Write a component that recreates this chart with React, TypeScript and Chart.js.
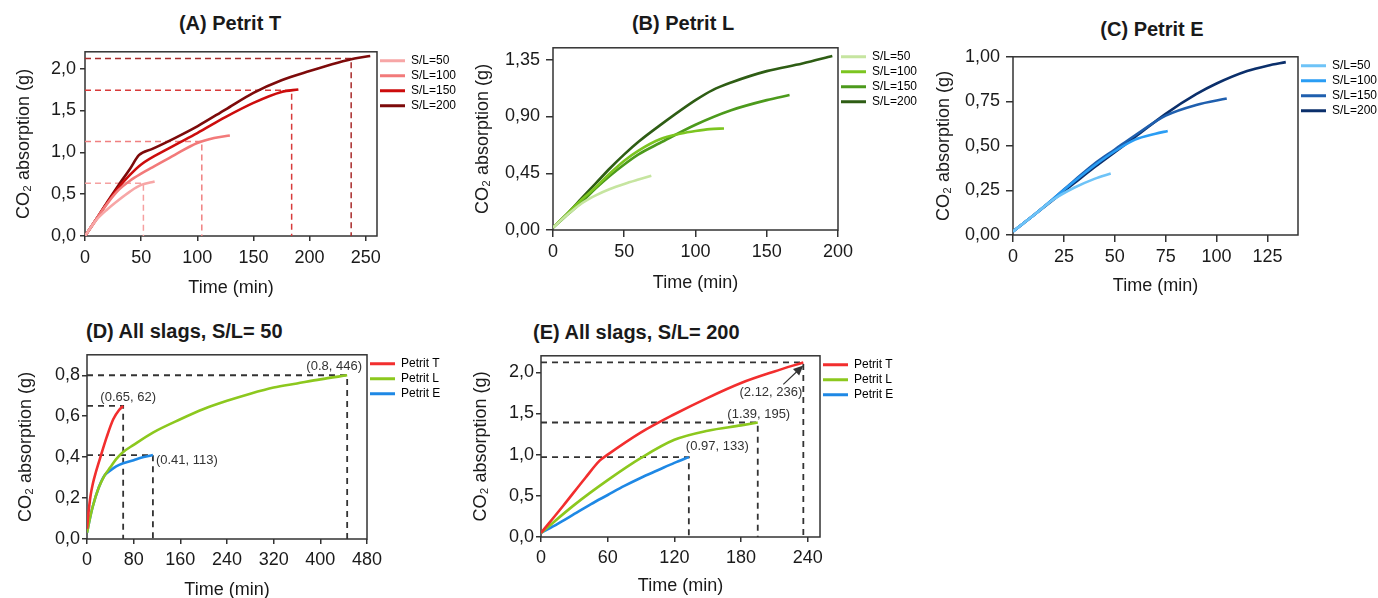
import React, { useEffect, useRef } from "react";
import { Chart, registerables } from "chart.js";

Chart.register(...registerables);

const FONT = "'Liberation Sans', Arial, Helvetica, sans-serif";
Chart.defaults.font.family = FONT;

// ---------------- DATA ----------------
const slLabels = ["S/L=50", "S/L=100", "S/L=150", "S/L=200"];
const slagLabels = ["Petrit T", "Petrit L", "Petrit E"];

// (A) Petrit T
const tA50 = [0, 10, 20, 30, 40, 50, 62];
const yA50 = [0, 0.19, 0.32, 0.43, 0.53, 0.61, 0.65];
const tA100 = [0, 10, 20, 30, 40, 50, 60, 80, 100, 115, 129];
const yA100 = [0, 0.2, 0.39, 0.55, 0.66, 0.745, 0.82, 0.97, 1.11, 1.17, 1.2];
const tA150 = [0, 10, 20, 30, 40, 50, 75, 100, 125, 150, 175, 190];
const yA150 = [0, 0.2, 0.4, 0.58, 0.73, 0.855, 1.05, 1.23, 1.42, 1.59, 1.72, 1.75];
const tA200 = [0, 10, 20, 30, 40, 48, 60, 80, 100, 125, 150, 175, 200, 225, 240, 254];
const yA200 = [0, 0.2, 0.41, 0.61, 0.8, 0.965, 1.04, 1.17, 1.31, 1.51, 1.71, 1.86, 1.97, 2.07, 2.12, 2.15];
const guideA_t = [52, 104, 184, 237];
const guideA_y = [0.63, 1.13, 1.74, 2.12];
const xTicksA = [0, 50, 100, 150, 200, 250];
const yTicksA = [0, 0.5, 1, 1.5, 2];

// (B) Petrit L
const tB50 = [0, 10, 20, 25, 30, 40, 50, 60, 69];
const yB50 = [0.02, 0.12, 0.21, 0.245, 0.275, 0.325, 0.365, 0.4, 0.43];
const tB100 = [0, 10, 20, 30, 40, 50, 60, 75, 90, 100, 110, 120];
const yB100 = [0.02, 0.13, 0.24, 0.34, 0.45, 0.55, 0.63, 0.72, 0.765, 0.785, 0.8, 0.805];
const tB150 = [0, 10, 20, 30, 40, 50, 60, 75, 100, 125, 150, 166];
const yB150 = [0.02, 0.12, 0.22, 0.33, 0.43, 0.52, 0.6, 0.69, 0.835, 0.95, 1.03, 1.07];
const tB200 = [0, 10, 20, 30, 40, 50, 60, 75, 100, 112, 125, 150, 175, 196];
const yB200 = [0.02, 0.13, 0.25, 0.37, 0.49, 0.6, 0.7, 0.83, 1.03, 1.11, 1.17, 1.26, 1.32, 1.38];
const xTicksB = [0, 50, 100, 150, 200];
const yTicksB = [0, 0.45, 0.9, 1.35];

// (C) Petrit E
const tC50 = [0, 5, 10, 20, 30, 40, 48];
const yC50 = [0.02, 0.065, 0.11, 0.2, 0.265, 0.315, 0.345];
const tC100 = [0, 5, 10, 20, 30, 40, 50, 60, 70, 76];
const yC100 = [0.02, 0.065, 0.11, 0.205, 0.3, 0.39, 0.47, 0.535, 0.568, 0.584];
const tC150 = [0, 5, 10, 20, 30, 40, 50, 60, 75, 90, 105];
const yC150 = [0.02, 0.065, 0.11, 0.205, 0.305, 0.4, 0.48, 0.56, 0.67, 0.73, 0.766];
const tC200 = [0, 5, 10, 20, 30, 40, 50, 60, 75, 90, 100, 115, 125, 134];
const yC200 = [0.02, 0.065, 0.11, 0.2, 0.29, 0.38, 0.465, 0.55, 0.68, 0.79, 0.85, 0.92, 0.95, 0.97];
const xTicksC = [0, 25, 50, 75, 100, 125];
const yTicksC = [0, 0.25, 0.5, 0.75, 1];

// (D) All slags, S/L = 50
const tDT = [0, 3, 6, 10, 15, 23, 34, 45, 55, 62];
const yDT = [0.05, 0.14, 0.21, 0.27, 0.325, 0.4, 0.5, 0.585, 0.63, 0.65];
const tDL = [0, 5, 10, 20, 30, 40, 50, 62, 80, 113, 160, 200, 240, 280, 320, 360, 400, 446];
const yDL = [0.03, 0.1, 0.16, 0.25, 0.31, 0.35, 0.39, 0.425, 0.46, 0.52, 0.585, 0.635, 0.675, 0.71, 0.74, 0.76, 0.78, 0.8];
const tDE = [0, 5, 10, 20, 30, 40, 50, 62, 80, 91, 113];
const yDE = [0.03, 0.1, 0.16, 0.25, 0.31, 0.335, 0.355, 0.37, 0.385, 0.396, 0.41];
const markD_t = [62, 113, 446];
const markD_y = [0.65, 0.41, 0.8];
const xTicksD = [0, 80, 160, 240, 320, 400, 480];
const yTicksD = [0, 0.2, 0.4, 0.6, 0.8];

// (E) All slags, S/L = 200
const tET = [0, 20, 40, 53, 60, 90, 120, 150, 180, 210, 236];
const yET = [0.05, 0.38, 0.72, 0.93, 1.0, 1.27, 1.49, 1.69, 1.87, 2.01, 2.12];
const tEL = [0, 30, 60, 90, 120, 150, 180, 195];
const yEL = [0.05, 0.39, 0.69, 0.96, 1.18, 1.29, 1.355, 1.39];
const tEE = [0, 15, 30, 45, 60, 75, 90, 105, 120, 133];
const yEE = [0.05, 0.16, 0.28, 0.4, 0.51, 0.62, 0.72, 0.81, 0.9, 0.97];
const markE_t = [236, 195, 133];
const markE_y = [2.12, 1.39, 0.97];
const xTicksE = [0, 60, 120, 180, 240];
const yTicksE = [0, 0.5, 1, 1.5, 2];

// ---------------- STYLES / LAYOUT ----------------
const colA = ["#f7a6a6", "#f27a7a", "#cc0c0c", "#7d0a0a"];
const colA_guide = ["#f5a0a0", "#f08080", "#d83a3a", "#a82a2a"];
const colB = ["#c6e5a0", "#7cc520", "#4c9a1c", "#2e5d14"];
const colC = ["#6ec3f7", "#2a9df4", "#1f5fae", "#0b2f6b"];
const colSlag = ["#f22e2e", "#8cc81e", "#1e88e5"];

type Line = { label: string; t: number[]; y: number[]; color: string };
type Guide = { t: number; y: number; color: string };
type Note = { t: number; y: number; dx: number; dy: number; align: CanvasTextAlign; arrow?: number[] };
type Spec = {
  key: string;
  title: string;
  titleX: number;
  titleY: number;
  titleAlign: "center" | "left";
  cx: number;
  plotLeft: number;
  plotRight: number;
  plotTop: number;
  plotBottom: number;
  xAxisH: number;
  legendW: number;
  xMax: number;
  yMax: number;
  xTicks: number[];
  yTicks: number[];
  yDec: number;
  tickLen: number;
  yPad: number;
  xPad: number;
  lines: Line[];
  guides: Guide[];
  guideDash: number[];
  guideWidth: number;
  notes: Note[];
};

const mk = (labels: string[], ts: number[][], ys: number[][], cols: string[]): Line[] =>
  labels.map((label, i) => ({ label, t: ts[i], y: ys[i], color: cols[i] }));

// legend natural width: padding(3) + box(25) + 6 + text + 10
const LEG_SL = 3 + 25 + 6 + 45.04 + 10;
const LEG_SLAG = 3 + 25 + 6 + 39.35 + 10;

const specs: Spec[] = [
  {
    key: "A", title: "(A) Petrit T", titleX: 230, titleY: 24, titleAlign: "center",
    cx: 13, plotLeft: 85, plotRight: 377, plotTop: 49, plotBottom: 236, xAxisH: 63, legendW: LEG_SL,
    xMax: 260, yMax: 2.2, xTicks: xTicksA, yTicks: yTicksA, yDec: 1, tickLen: 5, yPad: 4, xPad: 6,
    lines: mk(slLabels, [tA50, tA100, tA150, tA200], [yA50, yA100, yA150, yA200], colA),
    guides: guideA_t.map((t, i) => ({ t, y: guideA_y[i], color: colA_guide[i] })),
    guideDash: [6, 4], guideWidth: 1.5, notes: [],
  },
  {
    key: "B", title: "(B) Petrit L", titleX: 683, titleY: 24, titleAlign: "center",
    cx: 472, plotLeft: 553, plotRight: 838, plotTop: 43, plotBottom: 230, xAxisH: 64, legendW: LEG_SL,
    xMax: 200, yMax: 1.445, xTicks: xTicksB, yTicks: yTicksB, yDec: 2, tickLen: 7, yPad: 6, xPad: 4,
    lines: mk(slLabels, [tB50, tB100, tB150, tB200], [yB50, yB100, yB150, yB200], colB),
    guides: [], guideDash: [6, 4], guideWidth: 1.5, notes: [],
  },
  {
    key: "C", title: "(C) Petrit E", titleX: 1152, titleY: 30, titleAlign: "center",
    cx: 933, plotLeft: 1013, plotRight: 1298, plotTop: 52, plotBottom: 235, xAxisH: 62, legendW: LEG_SL,
    xMax: 140, yMax: 1.0, xTicks: xTicksC, yTicks: yTicksC, yDec: 2, tickLen: 7, yPad: 6, xPad: 4,
    lines: mk(slLabels, [tC50, tC100, tC150, tC200], [yC50, yC100, yC150, yC200], colC),
    guides: [], guideDash: [6, 4], guideWidth: 1.5, notes: [],
  },
  {
    key: "D", title: "(D) All slags, S/L= 50", titleX: 86, titleY: 332, titleAlign: "left",
    cx: 15, plotLeft: 87, plotRight: 367, plotTop: 354, plotBottom: 539, xAxisH: 62, legendW: LEG_SLAG,
    xMax: 480, yMax: 0.9, xTicks: xTicksD, yTicks: yTicksD, yDec: 1, tickLen: 5, yPad: 2, xPad: 5,
    lines: mk(slagLabels, [tDT, tDL, tDE], [yDT, yDL, yDE], colSlag),
    guides: markD_t.map((t, i) => ({ t, y: markD_y[i], color: "#333" })),
    guideDash: [6, 5], guideWidth: 1.8,
    notes: [
      { t: markD_t[0], y: markD_y[0], dx: 5, dy: -9, align: "center" },
      { t: markD_t[1], y: markD_y[1], dx: 3, dy: 5, align: "left" },
      { t: markD_t[2], y: markD_y[2], dx: -13, dy: -9, align: "center" },
    ],
  },
  {
    key: "E", title: "(E) All slags, S/L= 200", titleX: 533, titleY: 333, titleAlign: "left",
    cx: 470, plotLeft: 541, plotRight: 820, plotTop: 355, plotBottom: 537, xAxisH: 60, legendW: LEG_SLAG,
    xMax: 251, yMax: 2.2, xTicks: xTicksE, yTicks: yTicksE, yDec: 1, tickLen: 5, yPad: 2, xPad: 5,
    lines: mk(slagLabels, [tET, tEL, tEE], [yET, yEL, yEE], colSlag),
    guides: markE_t.map((t, i) => ({ t, y: markE_y[i], color: "#333" })),
    guideDash: [6, 5], guideWidth: 1.8,
    notes: [
      { t: markE_t[0], y: markE_y[0], dx: -1, dy: 30, align: "right", arrow: [-20, 22, 0, 3] },
      { t: markE_t[1], y: markE_y[1], dx: 1, dy: -8, align: "center" },
      { t: markE_t[2], y: markE_y[2], dx: -3, dy: -11, align: "left" },
    ],
  },
];

// ---------------- PLUGINS ----------------
const framePlugin = {
  id: "frame",
  beforeDatasetsDraw(chart: any) {
    const { ctx, chartArea: a } = chart;
    ctx.save();
    ctx.strokeStyle = "#333";
    ctx.lineWidth = 1.5;
    ctx.strokeRect(a.left, a.top, a.right - a.left, a.bottom - a.top);
    ctx.restore();
  },
};

const makeNotesPlugin = (notes: Note[]) => ({
  id: "notes",
  afterDatasetsDraw(chart: any) {
    const { ctx } = chart;
    const xs = chart.scales.x;
    const ys = chart.scales.y;
    ctx.save();
    ctx.font = `13px ${FONT}`;
    ctx.fillStyle = "#333";
    ctx.strokeStyle = "#333";
    ctx.textBaseline = "middle";
    notes.forEach((n) => {
      const px = xs.getPixelForValue(n.t);
      const py = ys.getPixelForValue(n.y);
      ctx.textAlign = n.align;
      ctx.fillText(`(${n.y}, ${n.t})`, px + n.dx, py + n.dy);
      if (n.arrow) {
        const [ax, ay, bx, by] = n.arrow;
        const x1 = px + ax, y1 = py + ay, x2 = px + bx, y2 = py + by;
        const ang = Math.atan2(y2 - y1, x2 - x1);
        ctx.lineWidth = 1.2;
        ctx.beginPath();
        ctx.moveTo(x1, y1);
        ctx.lineTo(x2 - 7 * Math.cos(ang), y2 - 7 * Math.sin(ang));
        ctx.stroke();
        ctx.beginPath();
        ctx.moveTo(x2, y2);
        ctx.lineTo(x2 - 10 * Math.cos(ang) + 4.5 * Math.sin(ang), y2 - 10 * Math.sin(ang) - 4.5 * Math.cos(ang));
        ctx.lineTo(x2 - 10 * Math.cos(ang) - 4.5 * Math.sin(ang), y2 - 10 * Math.sin(ang) + 4.5 * Math.cos(ang));
        ctx.closePath();
        ctx.fill();
      }
    });
    ctx.restore();
  },
});

// ---------------- COMPONENTS ----------------
function Panel({ s }: { s: Spec }) {
  const ref = useRef<HTMLCanvasElement>(null);
  const padTop = 12;
  const padRight = 5;
  const W = Math.ceil(s.plotRight - s.cx + s.legendW + padRight);
  const top = s.plotTop - padTop;
  const H = padTop + (s.plotBottom - s.plotTop) + s.xAxisH;
  const yAxisW = s.plotLeft - s.cx;
  const rightPad = W - (s.plotRight - s.cx) - s.legendW;

  useEffect(() => {
    const canvas = ref.current;
    if (!canvas) return;
    const datasets: any[] = [
      ...s.lines.map((l) => ({
        label: l.label,
        data: l.t.map((t, i) => ({ x: t, y: l.y[i] })),
        borderColor: l.color,
        backgroundColor: l.color,
        borderWidth: 2.6,
        pointRadius: 0,
        pointHoverRadius: 0,
        cubicInterpolationMode: "monotone",
        fill: false,
      })),
      ...s.guides.map((g) => ({
        label: "_guide",
        data: [
          { x: 0, y: g.y },
          { x: g.t, y: g.y },
          { x: g.t, y: 0 },
        ],
        borderColor: g.color,
        backgroundColor: g.color,
        borderWidth: s.guideWidth,
        borderDash: s.guideDash,
        pointRadius: 0,
        pointHoverRadius: 0,
        tension: 0,
        fill: false,
      })),
    ];
    const tickFont = { size: 18, family: FONT };
    const chart = new Chart(canvas, {
      type: "line",
      data: { datasets },
      options: {
        responsive: false,
        animation: false,
        events: [],
        layout: { padding: { left: 0, top: padTop, right: rightPad, bottom: 0 } },
        plugins: {
          title: { display: false },
          tooltip: { enabled: false },
          legend: {
            display: true,
            position: "right",
            align: "start",
            fullSize: false,
            labels: {
              boxWidth: 25,
              boxHeight: 3,
              padding: 3,
              color: "#333",
              font: { size: 12, family: FONT },
              generateLabels: (ch: any) =>
                ch.data.datasets
                  .map((d: any, i: number) => ({
                    text: d.label,
                    fillStyle: d.borderColor,
                    strokeStyle: d.borderColor,
                    lineWidth: 0,
                    hidden: false,
                    datasetIndex: i,
                  }))
                  .filter((it: any) => it.text !== "_guide"),
            },
          },
        },
        scales: {
          x: {
            type: "linear",
            min: 0,
            max: s.xMax,
            afterBuildTicks: (sc: any) => {
              sc.ticks = s.xTicks.map((v) => ({ value: v }));
            },
            afterFit: (sc: any) => {
              sc.height = s.xAxisH;
            },
            grid: {
              display: true,
              drawOnChartArea: false,
              drawTicks: true,
              tickLength: s.tickLen,
              color: "#333",
              lineWidth: 1.5,
            },
            border: { display: false },
            ticks: {
              font: tickFont,
              color: "#1a1a1a",
              padding: s.xPad,
              maxRotation: 0,
              autoSkip: false,
              callback: (v: any) => String(v),
            },
            title: {
              display: true,
              text: "Time (min)",
              font: tickFont,
              color: "#1a1a1a",
              padding: { top: 0, bottom: 0 },
            },
          },
          y: {
            type: "linear",
            min: 0,
            max: s.yMax,
            afterBuildTicks: (sc: any) => {
              sc.ticks = s.yTicks.map((v) => ({ value: v }));
            },
            afterFit: (sc: any) => {
              sc.width = yAxisW;
            },
            grid: {
              display: true,
              drawOnChartArea: false,
              drawTicks: true,
              tickLength: s.tickLen,
              color: "#333",
              lineWidth: 1.5,
            },
            border: { display: false },
            ticks: {
              font: tickFont,
              color: "#1a1a1a",
              padding: s.yPad,
              autoSkip: false,
              callback: (v: any) => Number(v).toFixed(s.yDec).replace(".", ","),
            },
            title: {
              display: true,
              text: "CO₂ absorption (g)",
              font: tickFont,
              color: "#1a1a1a",
              padding: { top: 0, bottom: 0 },
            },
          },
        },
      } as any,
      plugins: [framePlugin, makeNotesPlugin(s.notes)],
    });
    return () => chart.destroy();
  }, []);

  const titleStyle: React.CSSProperties =
    s.titleAlign === "center"
      ? {
          position: "absolute",
          left: s.titleX - 200,
          width: 400,
          textAlign: "center",
          top: s.titleY - 12,
          lineHeight: "24px",
          font: `bold 20px ${FONT}`,
          color: "#1a1a1a",
          whiteSpace: "nowrap",
        }
      : {
          position: "absolute",
          left: s.titleX,
          top: s.titleY - 12,
          lineHeight: "24px",
          font: `bold 20px ${FONT}`,
          color: "#1a1a1a",
          whiteSpace: "nowrap",
        };

  return (
    <>
      <div style={titleStyle}>{s.title}</div>
      <canvas
        ref={ref}
        width={W}
        height={H}
        style={{ position: "absolute", left: s.cx, top, width: W, height: H }}
      />
    </>
  );
}

export default function App() {
  return (
    <div
      style={{
        position: "absolute",
        left: 0,
        top: 0,
        width: 1378,
        height: 598,
        overflow: "hidden",
        background: "#ffffff",
        fontFamily: FONT,
      }}
    >
      {specs.map((s) => (
        <Panel key={s.key} s={s} />
      ))}
    </div>
  );
}
